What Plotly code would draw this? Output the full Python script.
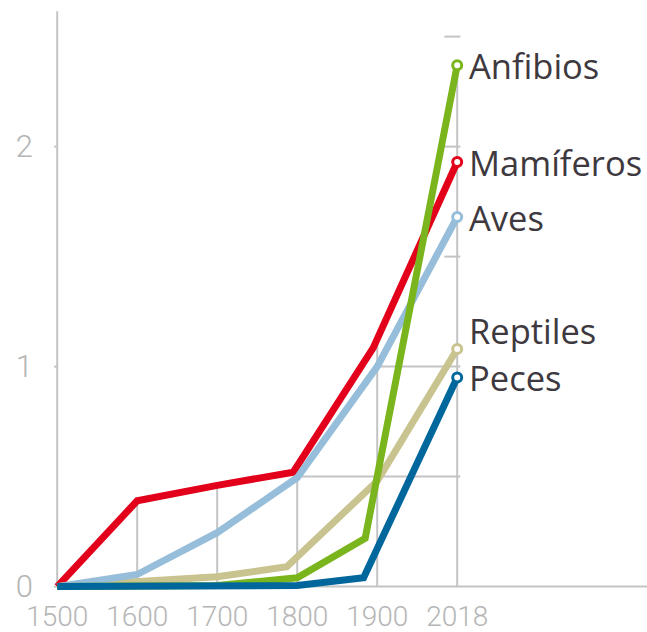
import numpy as np
import plotly.graph_objects as go

# ---- data ----
TICK_YEARS = [1500, 1600, 1700, 1800, 1900, 2018]
TICK_LABELS = ["1500", "1600", "1700", "1800", "1900", "2018"]

NAMES = ["Mamíferos", "Reptiles", "Aves", "Anfibios", "Peces"]
MAM_YEARS = [1500, 1600, 1700, 1795, 1895, 2018]
MAM_VALS = [0, 0.39, 0.46, 0.52, 1.085, 1.93]
REP_YEARS = [1500, 1600, 1700, 1787, 1900, 2018]
REP_VALS = [0, 0.02, 0.045, 0.09, 0.48, 1.08]
AVE_YEARS = [1500, 1600, 1700, 1800, 1900, 2018]
AVE_VALS = [0, 0.055, 0.245, 0.495, 1.0, 1.68]
ANF_YEARS = [1500, 1600, 1700, 1800, 1885, 2018]
ANF_VALS = [0, 0, 0.005, 0.04, 0.22, 2.37]
PEC_YEARS = [1500, 1600, 1700, 1800, 1883, 2018]
PEC_VALS = [0, 0, 0, 0.005, 0.04, 0.95]

Y_TICKS = [0, 1, 2]
GRID_LEVELS = [0.5, 1.0, 1.5, 2.0, 2.5]

COLORS = {"Mamíferos": "#e2001a", "Reptiles": "#c9c38f", "Aves": "#96bdd9",
          "Anfibios": "#7ab51d", "Peces": "#00679d"}
LABEL_SHIFT = {"Mamíferos": 0, "Reptiles": 19, "Aves": 0, "Anfibios": 0, "Peces": 0}


def pos(year):
    """Axis position: the last interval (1900-2018) is drawn as one century."""
    year = np.asarray(year, dtype=float)
    return np.where(year <= 1900, year, 1900 + (year - 1900) * 100 / 118)


series = {
    "Mamíferos": (MAM_YEARS, MAM_VALS),
    "Reptiles": (REP_YEARS, REP_VALS),
    "Aves": (AVE_YEARS, AVE_VALS),
    "Anfibios": (ANF_YEARS, ANF_VALS),
    "Peces": (PEC_YEARS, PEC_VALS),
}

GRID = "#c4c4c4"
TICKCOL = "#b5b5b5"
TEXTCOL = "#3d393e"

fig = go.Figure()

tick_pos = pos(TICK_YEARS)
last = float(tick_pos[-1])
env = np.max([np.interp(tick_pos, pos(y), v) for y, v in series.values()], axis=0)

shapes = []
# vertical grid lines under the envelope
for tp, e in zip(tick_pos[1:], env[1:]):
    shapes.append(dict(type="line", xref="x", yref="y", x0=tp, x1=tp, y0=0, y1=e,
                       line=dict(color=GRID, width=2), layer="below"))
# horizontal grid lines
for h in GRID_LEVELS:
    start = None
    for tp, e in zip(tick_pos[1:-1], env[1:-1]):
        if e >= h:
            start = tp
            break
    x0 = start if start is not None else last - 16
    shapes.append(dict(type="line", xref="x", yref="y", x0=x0, x1=last + 4, y0=h, y1=h,
                       line=dict(color=GRID, width=2), layer="below"))
# axes
shapes.append(dict(type="line", xref="x", yref="y", x0=1500, x1=1500, y0=0, y1=2.615,
                   line=dict(color=GRID, width=2), layer="below"))
shapes.append(dict(type="line", xref="x", yref="y", x0=1500, x1=2240, y0=0, y1=0,
                   line=dict(color=GRID, width=2), layer="below"))
for t in Y_TICKS:
    shapes.append(dict(type="line", xref="x", yref="y", x0=1479, x1=1500, y0=t, y1=t,
                       line=dict(color=GRID, width=2), layer="below"))

for name in NAMES:
    yrs, vals = series[name]
    c = COLORS[name]
    fig.add_trace(go.Scatter(
        x=pos(yrs), y=vals, mode="lines", name=name,
        line=dict(color=c, width=7), showlegend=False, hoverinfo="skip"))

for name in NAMES:
    yrs, vals = series[name]
    c = COLORS[name]
    fig.add_trace(go.Scatter(
        x=[float(pos(yrs[-1]))], y=[vals[-1]], mode="markers", cliponaxis=False,
        marker=dict(size=9, color="white", line=dict(color=c, width=3)),
        showlegend=False, hoverinfo="skip"))
    fig.add_annotation(x=float(pos(yrs[-1])), y=vals[-1], xref="x", yref="y",
                       text=name, showarrow=False, xanchor="left", yanchor="middle",
                       xshift=10, yshift=LABEL_SHIFT[name],
                       font=dict(family="Open Sans", size=34.5, color=TEXTCOL))

fig.update_layout(
    width=647, height=632,
    margin=dict(l=54, r=0, t=8, b=41, autoexpand=False),
    paper_bgcolor="white", plot_bgcolor="white",
    shapes=shapes,
    xaxis=dict(range=[1496, 2237.25], tickvals=list(tick_pos), ticktext=TICK_LABELS,
               showgrid=False, zeroline=False, showline=False, ticks="", automargin=False,
               tickfont=dict(family="Roboto", size=28, color=TICKCOL, weight=300),
               ticklabelstandoff=6),
    yaxis=dict(range=[-0.02, 2.63], tickvals=Y_TICKS, ticktext=[str(t) for t in Y_TICKS],
               showgrid=False, zeroline=False, showline=False, ticks="", automargin=False,
               tickfont=dict(family="Roboto", size=31, color=TICKCOL, weight=300),
               ticklabelstandoff=20),
)

fig.write_html("out.html", config={"displayModeBar": False},
               post_script="document.body.style.margin='0';document.body.style.overflow='hidden';")
